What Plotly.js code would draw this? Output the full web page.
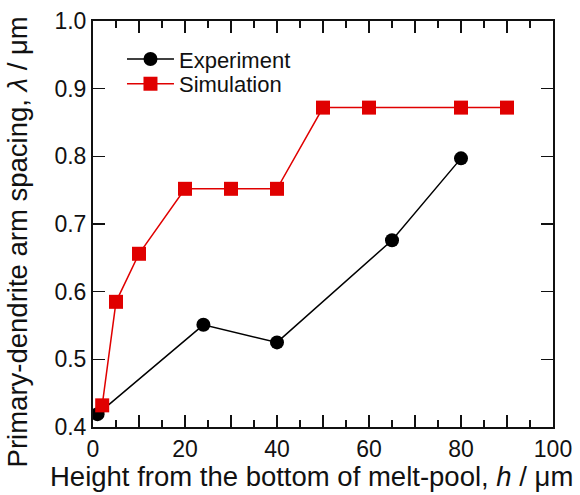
<!DOCTYPE html>
<html><head><meta charset="utf-8">
<script src="https://cdn.plot.ly/plotly-3.0.1.min.js"></script>
<style>body{margin:0;background:#fff}#c{width:580px;height:495px}</style>
</head><body><div id="c"></div>
<script>
const expH = [1, 24, 40, 65, 80];
const expLambda = [0.419, 0.551, 0.525, 0.676, 0.797];
const simH = [2, 5, 10, 20, 30, 40, 50, 60, 80, 90];
const simLambda = [0.432, 0.585, 0.656, 0.752, 0.752, 0.752, 0.872, 0.872, 0.872, 0.872];
const xTickVals = [0, 10, 20, 30, 40, 50, 60, 70, 80, 90, 100];
const xTickText = ['0', '', '20', '', '40', '', '60', '', '80', '', '100'];
const yTickVals = [0.4, 0.5, 0.6, 0.7, 0.8, 0.9, 1.0];
const yTickText = ['0.4', '0.5', '0.6', '0.7', '0.8', '0.9', '1.0'];
const xTitle = 'Height from the bottom of melt-pool, <i>h</i> / μm';
const yTitle = 'Primary-dendrite arm spacing, <i>λ</i> / μm';

const fam = 'Liberation Sans, Arial, sans-serif';
const tickFont = {family: fam, color: '#111', size: 23};
const titleFont = {family: fam, color: '#111', size: 27.5};
const legFont = {family: fam, size: 22, color: '#111'};
const traces = [
  {x: expH, y: expLambda, name: 'Experiment', mode: 'lines+markers', legend: 'legend',
   line: {color: '#000', width: 1.5}, marker: {symbol: 'circle', size: 14, color: '#000'}},
  {x: simH, y: simLambda, name: 'Simulation', mode: 'lines+markers', legend: 'legend2',
   line: {color: '#e00000', width: 1.5}, marker: {symbol: 'square', size: 14, color: '#e00000'}}
];
const axBase = {showgrid: false, zeroline: false, showline: true, linecolor: '#111', linewidth: 2,
  mirror: 'allticks', ticks: 'inside', ticklen: 12, tickwidth: 1.5, tickcolor: '#111', tickfont: tickFont,
  automargin: false};
const legBase = {xanchor: 'left', yanchor: 'middle', bgcolor: 'rgba(0,0,0,0)', font: legFont, itemwidth: 47};
const layout = {
  width: 580, height: 495,
  margin: {l: 93, r: 27, t: 21, b: 68},
  paper_bgcolor: '#fff', plot_bgcolor: '#fff',
  font: tickFont,
  showlegend: true,
  legend: Object.assign({x: 0.063, y: 0.906}, legBase),
  legend2: Object.assign({x: 0.063, y: 0.845}, legBase),
  xaxis: Object.assign({}, axBase, {range: [0, 100], tickmode: 'array', tickvals: xTickVals, ticktext: xTickText,
    minor: {dtick: 5, ticks: 'inside', ticklen: 7, tickwidth: 1.5, tickcolor: '#111', showgrid: false}}),
  yaxis: Object.assign({}, axBase, {range: [0.4, 1.0], tickmode: 'array', tickvals: yTickVals, ticktext: yTickText}),
  annotations: [
    {text: xTitle, xref: 'paper', yref: 'paper', x: 0.474, y: -0.121, xanchor: 'center', yanchor: 'middle',
     showarrow: false, font: titleFont},
    {text: yTitle, xref: 'paper', yref: 'paper', x: -0.164, y: 0.456, xanchor: 'center', yanchor: 'middle',
     textangle: -90, showarrow: false, font: titleFont}
  ]
};
Plotly.newPlot('c', traces, layout, {displayModeBar: false, staticPlot: true});
</script></body></html>
